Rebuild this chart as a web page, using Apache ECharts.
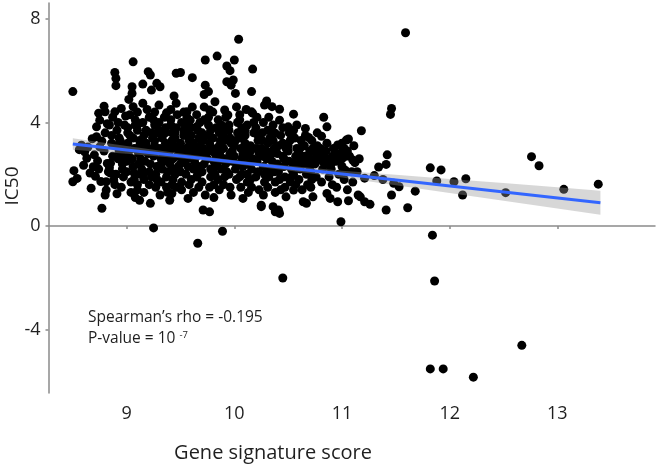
<!DOCTYPE html>
<html><head><meta charset="utf-8">
<script src="https://cdn.jsdelivr.net/npm/echarts@6/dist/echarts.min.js"></script>
<style>html,body{margin:0;padding:0;background:#fff}#c{width:660px;height:466px}</style>
</head><body><div id="c"></div>
<script>
// Axis ticks
const xTicks = [9, 10, 11, 12, 13];
const yTicks = [-4, 0, 4, 8];

// Scatter points: [gene signature score, IC50]
const pointsLeft = [
[8.50,5.19],[8.51,2.14],[8.50,1.71],[8.54,1.84],[8.56,2.95],[8.58,3.12],[8.61,2.87],[8.60,2.35],[8.63,2.62],
[8.66,2.05],[8.67,1.46],[8.68,3.37],[8.64,3.05],[8.69,2.29],[8.70,2.75],[8.71,1.92],
[8.72,3.83],[8.72,3.45],[8.74,4.36],[8.75,4.09],[8.75,3.06],[8.74,2.2],[8.77,0.69],[8.76,1.72],[8.73,2.52],[8.77,3.28],
[8.79,4.63],[8.80,4.41],[8.81,1.39],[8.81,1.71],[8.80,1.2],[8.79,2.9],[8.82,2.42],[8.80,3.6],[8.83,2.1],[8.82,3.95],
[8.85,2.43],[8.85,2.05],[8.86,3.2],[8.84,3.9],[8.87,2.7],[8.88,1.78],[8.86,3.5],[8.84,2.25],[8.87,4.2],
[8.89,5.93],[8.90,5.70],[8.90,5.42],[8.89,4.41],[8.91,1.25],[8.90,3.1],[8.92,2.6],[8.91,3.7],[8.90,2.0],[8.93,2.9],[8.92,4.0],[8.89,1.6],[8.93,3.4],
[8.95,4.54],[8.96,2.4],[8.94,3.3],[8.97,1.9],[8.95,2.8],[8.98,3.9],[8.96,2.2],[8.97,3.05],[8.95,1.5],[8.99,4.25],[8.98,2.6]
];
const pointsMidLeft = [
[9.02,4.89],[9.01,3.8],[9.03,3.5],[9.00,2.1],[9.02,2.9],[9.04,1.7],[9.01,3.2],[9.03,4.3],[9.00,2.5],[9.04,1.3],[9.02,2.7],[9.01,3.6],
[9.06,6.34],[9.05,5.38],[9.05,5.12],[9.06,4.61],[9.07,3.0],[9.06,2.3],[9.08,3.9],[9.07,1.8],[9.05,2.6],[9.08,4.1],[9.06,3.4],[9.08,1.1],[9.07,2.05],
[9.10,3.7],[9.11,2.8],[9.10,1.6],[9.12,3.3],[9.11,2.4],[9.10,4.4],[9.13,2.0],[9.12,3.1],[9.12,1.0],[9.13,2.6],[9.11,3.95],[9.10,1.4],
[9.15,5.48],[9.15,4.74],[9.16,3.5],[9.14,2.2],[9.17,2.9],[9.16,1.8],[9.15,4.0],[9.18,3.2],[9.17,2.5],[9.16,1.3],[9.18,3.7],[9.15,2.0],
[9.20,5.96],[9.22,5.83],[9.23,5.25],[9.21,4.2],[9.20,3.0],[9.22,2.4],[9.21,1.6],[9.23,3.6],[9.20,2.8],[9.22,0.88],[9.24,3.4],[9.21,2.1],[9.19,4.5],[9.23,1.9],
[9.25,-0.07],[9.26,3.9],[9.25,2.7],[9.27,1.5],[9.26,3.3],[9.28,2.3],[9.25,4.1],[9.27,2.9],[9.28,1.8],[9.26,3.1],[9.27,2.0],[9.28,3.6],[9.26,4.4],
[9.28,5.51],[9.31,5.38],[9.30,4.67],[9.31,1.2],[9.30,3.7],[9.32,2.6],[9.31,3.0],[9.33,2.2],[9.30,4.0],[9.32,1.7],[9.33,3.4],[9.31,2.9],[9.32,2.4],[9.33,3.5],
[9.37,4.37],[9.36,3.8],[9.35,2.8],[9.37,1.5],[9.36,3.2],[9.38,2.5],[9.35,4.2],[9.37,1.9],[9.36,3.6],[9.38,2.1],[9.35,3.0],[9.38,1.3],[9.36,2.7],
[9.40,1.0],[9.42,1.26],[9.41,3.9],[9.40,2.4],[9.42,3.3],[9.41,4.5],[9.43,1.8],[9.40,2.9],[9.42,3.6],[9.43,2.2],[9.41,4.1],[9.40,3.0],[9.43,2.6],[9.42,1.6],
[9.46,5.90],[9.44,5.02],[9.46,4.74],[9.45,3.4],[9.47,2.7],[9.45,2.0],[9.46,3.8],[9.48,2.3],[9.44,3.1],[9.47,4.3],[9.46,1.5],[9.48,2.9],[9.45,3.6]
];
const pointsMid = [
[9.50,5.93],[9.51,4.0],[9.50,3.2],[9.52,2.5],[9.51,1.7],[9.53,3.7],[9.50,2.1],[9.52,2.8],[9.53,4.4],[9.51,1.4],[9.52,3.0],[9.50,2.4],[9.53,3.5],
[9.56,4.41],[9.57,1.07],[9.55,3.9],[9.56,2.6],[9.58,3.3],[9.55,2.0],[9.57,2.9],[9.56,4.2],[9.58,1.6],[9.55,3.6],[9.57,2.3],[9.58,3.1],
[9.61,5.73],[9.59,4.09],[9.60,3.5],[9.62,2.2],[9.61,2.8],[9.60,1.8],[9.62,3.2],[9.61,4.6],[9.63,2.5],[9.60,3.8],[9.62,1.3],[9.63,3.0],
[9.65,3.83],[9.66,-0.66],[9.65,2.7],[9.67,3.4],[9.66,2.0],[9.65,4.3],[9.67,1.5],[9.68,2.9],[9.66,3.7],[9.67,2.3],[9.68,3.1],[9.65,1.9],[9.68,4.0],
[9.73,6.41],[9.73,5.44],[9.76,5.19],[9.72,5.08],[9.71,0.62],[9.70,3.6],[9.72,2.4],[9.71,3.0],[9.70,1.7],[9.72,4.1],[9.73,2.7],[9.71,3.3],[9.70,2.1],[9.72,4.6],[9.73,1.2],
[9.77,0.55],[9.77,4.48],[9.76,3.9],[9.75,2.6],[9.77,3.2],[9.78,1.9],[9.76,2.9],[9.75,3.5],[9.78,2.2],[9.76,4.2],[9.77,1.5],[9.78,3.7],
[9.84,6.56],[9.82,4.80],[9.80,3.4],[9.81,2.5],[9.82,2.0],[9.80,3.0],[9.83,3.8],[9.81,1.6],[9.82,2.8],[9.80,4.4],[9.83,2.3],[9.81,1.1],
[9.85,4.1],[9.86,3.1],[9.87,2.7],[9.85,1.8],[9.86,3.6],[9.88,2.2],[9.87,2.9],[9.86,1.4],[9.88,3.9],[9.85,2.5],[9.87,3.3],
[9.89,-0.2],
[9.93,6.18],[9.93,5.57],[9.91,4.48],[9.90,3.5],[9.92,2.4],[9.91,1.9],[9.90,3.0],[9.92,2.6],[9.91,3.8],[9.90,1.6],[9.92,4.2],[9.93,2.1],[9.91,3.3],
[9.96,6.0],[9.97,5.44],[9.94,4.29],[9.95,3.7],[9.96,2.8],[9.95,2.0],[9.97,3.2],[9.96,1.5],[9.98,2.5],[9.95,3.9],[9.97,1.2],[9.98,2.9],[9.96,3.4]
];
const pointsMidRight = [
[10.04,7.21],[10.00,6.41],[9.99,5.64],[10.01,5.12],[10.02,4.6],[10.00,3.1],[10.01,2.2],[10.03,3.6],[10.02,1.8],[10.00,2.7],[10.03,4.0],[10.08,1.07],[10.01,3.3],[10.02,2.4],
[10.05,4.3],[10.06,3.4],[10.07,2.6],[10.05,1.9],[10.06,3.0],[10.08,2.3],[10.07,3.8],[10.06,1.5],[10.08,2.8],[10.05,4.1],[10.07,2.0],
[10.10,3.7],[10.11,2.9],[10.12,1.7],[10.10,3.2],[10.13,2.4],[10.11,4.5],[10.12,2.0],[10.10,3.5],[10.13,1.3],[10.11,2.7],[10.12,3.9],
[10.17,6.06],[10.16,5.19],[10.16,4.41],[10.17,4.36],[10.15,3.1],[10.16,2.2],[10.18,3.6],[10.15,1.8],[10.17,2.6],[10.18,4.0],[10.16,1.5],[10.15,2.9],
[10.20,3.8],[10.21,2.5],[10.22,3.3],[10.20,1.9],[10.23,2.8],[10.21,4.2],[10.22,2.1],[10.20,3.0],[10.23,1.4],[10.22,3.5],
[10.25,0.81],[10.25,0.75],[10.26,3.6],[10.27,2.3],[10.25,3.0],[10.28,1.7],[10.26,2.7],[10.27,4.0],[10.28,2.0],[10.26,3.3],[10.27,1.2],
[10.30,4.83],[10.28,4.67],[10.31,3.2],[10.30,2.6],[10.32,1.9],[10.31,3.7],[10.33,2.2],[10.30,2.9],[10.32,4.2],[10.31,1.5],[10.33,3.4],
[10.35,4.61],[10.36,0.75],[10.36,3.9],[10.35,2.8],[10.37,2.1],[10.36,3.3],[10.38,1.7],[10.35,2.5],[10.37,3.0],[10.38,1.3],[10.36,3.6],
[10.42,4.51],[10.42,4.09],[10.38,3.58],[10.38,0.55],[10.42,0.49],[10.41,0.62],[10.40,2.4],[10.41,3.1],[10.42,1.8],[10.40,2.8],[10.43,3.5],[10.41,2.1],[10.43,1.4],
[10.45,3.8],[10.46,2.6],[10.45,3.2],[10.47,1.9],[10.46,2.3],[10.48,3.0],[10.47,1.5],[10.45,2.7]
];
const pointsRight = [
[10.50,3.83],[10.52,3.32],[10.48,1.13],[10.51,2.5],[10.50,2.9],[10.52,1.7],[10.51,3.6],[10.53,2.2],[10.50,3.1],[10.53,1.9],
[10.55,4.32],[10.55,1.39],[10.56,3.4],[10.57,2.7],[10.55,2.0],[10.58,3.0],[10.56,2.4],[10.57,1.6],[10.55,3.7],
[10.58,3.90],[10.60,2.8],[10.61,2.2],[10.62,3.3],[10.60,1.8],[10.62,2.5],[10.61,3.0],[10.63,1.4],
[10.66,3.77],[10.67,0.88],[10.64,0.94],[10.65,3.1],[10.66,2.4],[10.67,2.0],[10.65,2.7],[10.68,1.6],[10.66,3.5],
[10.69,3.42],[10.73,3.0],[10.70,2.6],[10.71,2.1],[10.72,1.8],[10.70,2.9],[10.71,1.5],[10.72,3.3],[10.70,2.3],
[10.73,1.13],[10.76,2.8],[10.75,2.4],[10.77,3.1],[10.76,1.9],[10.75,2.6],[10.77,3.6],
[10.83,4.20],[10.81,3.47],[10.80,2.7],[10.82,2.2],[10.80,3.0],[10.81,1.7],[10.82,2.5],
[10.86,3.83],[10.86,1.26],[10.85,2.9],[10.87,2.4],[10.86,3.2],[10.88,1.9],[10.85,2.6],
[10.89,1.07],[10.91,2.7],[10.90,2.2],[10.92,3.0],[10.91,1.6],[10.90,2.4],
[10.96,3.13],[10.96,0.94],[10.95,2.5],[10.97,2.0],[10.96,2.8],[10.95,1.5],
[10.99,0.17],[11.06,3.36],[11.01,2.9],[11.00,2.3],[11.02,1.8],[11.00,2.6],
[11.04,3.32],[11.06,0.98],[11.03,2.16],[11.04,2.7],[11.02,3.0],[11.05,1.4],
[11.00,3.2],[11.05,2.9],[11.07,2.7],[11.10,2.55],[11.12,2.45],
[11.09,2.1],[11.11,3.1],[11.10,1.7],
[11.14,2.1],[11.15,1.2],[11.16,2.6],
[11.21,0.94],[11.21,1.85],[11.17,1.13],[11.26,0.84]
];
const pointsOutlying = [
[11.18,3.68],[11.59,7.46],[11.46,4.54],[11.45,4.31],[12.76,2.68],[12.83,2.33],[11.82,2.25],[11.92,2.17],
[11.42,2.75],[11.34,2.28],[11.41,2.38],[11.88,1.74],[12.04,1.71],[12.15,1.83],[12.12,1.20],[11.68,1.35],
[11.61,0.71],[12.52,1.29],[13.06,1.42],[13.38,1.62],[11.46,1.20],[11.41,0.62],[11.48,1.65],[11.53,1.52],
[11.38,1.80],[11.30,1.95],
[10.45,-2.0],[11.84,-0.35],[11.86,-2.12],[12.67,-4.6],[11.82,-5.51],[11.94,-5.51],[12.22,-5.83]
];

// Regression fit (line + confidence band)
const fitX = [8.5, 13.4];
const fitY = [3.17, 0.90];
const bandX =     [8.5, 9.0, 9.5, 10.0, 10.5, 11.0, 11.5, 12.0, 12.5, 13.0, 13.4];
const bandLower = [2.95, 2.79, 2.62, 2.40, 2.15, 1.88, 1.58, 1.28, 0.98, 0.68, 0.44];
const bandUpper = [3.39, 3.09, 2.80, 2.54, 2.33, 2.14, 1.98, 1.82, 1.66, 1.50, 1.36];

const allPoints = [].concat(pointsLeft, pointsMidLeft, pointsMid, pointsMidRight, pointsRight, pointsOutlying);

const FONT = '"Open Sans", sans-serif';
const chart = echarts.init(document.getElementById('c'), null, {renderer: 'canvas'});
const axisLineStyle = {color: '#8a8a8a', width: 1.5};
chart.setOption({
  animation: false,
  backgroundColor: '#fff',
  grid: {left: 48.5, right: 5, top: 3, bottom: 73, containLabel: false},
  xAxis: {
    type: 'value', min: 8.274, max: 13.907,
    axisLine: {show: true, lineStyle: axisLineStyle},
    axisTick: {show: true, length: 3, lineStyle: {color: '#8a8a8a', width: 1.5}, customValues: xTicks},
    axisLabel: {customValues: xTicks, color: '#1f1f1f', fontSize: 18, fontFamily: FONT, margin: 12},
    splitLine: {show: false}
  },
  yAxis: {
    type: 'value', min: -6.44, max: 8.61,
    axisLine: {show: true, lineStyle: axisLineStyle},
    axisTick: {show: true, length: 3, lineStyle: {color: '#8a8a8a', width: 1.5}, customValues: yTicks},
    axisLabel: {customValues: yTicks, color: '#1f1f1f', fontSize: 18, fontFamily: FONT, margin: 8},
    splitLine: {show: false}
  },
  graphic: [
    {type: 'text', x: 13, y: 186, rotation: Math.PI / 2,
      style: {text: 'IC50', font: '19px ' + FONT, fill: '#1f1f1f', align: 'center', verticalAlign: 'middle'}},
    {type: 'text', x: 273, y: 453,
      style: {text: 'Gene signature score', font: '20px ' + FONT, fill: '#1f1f1f', align: 'center', verticalAlign: 'middle'}},
    {type: 'text', x: 88, y: 318,
      style: {text: 'Spearman\u2019s rho = -0.195', font: '15.5px ' + FONT, fill: '#1f1f1f', align: 'left', verticalAlign: 'middle'}},
    {type: 'text', x: 88, y: 339,
      style: {text: 'P-value = 10 {sup|-7}', font: '15.5px ' + FONT, fill: '#1f1f1f', align: 'left', verticalAlign: 'middle',
        rich: {sup: {fontSize: 9.5, fontFamily: FONT, fill: '#1f1f1f', verticalAlign: 'top', padding: [0, 0, 8, 0]}}}}
  ],
  series: [
    {
      type: 'scatter', data: allPoints, symbol: 'circle', symbolSize: 9,
      itemStyle: {color: '#000', opacity: 1}, z: 2, silent: true
    },
    {
      type: 'custom', coordinateSystem: 'cartesian2d', data: [[bandX[0], bandLower[0]]], z: 3, silent: true,
      renderItem: function (params, api) {
        const pts = [];
        for (let i = 0; i < bandX.length; i++) pts.push(api.coord([bandX[i], bandUpper[i]]));
        for (let i = bandX.length - 1; i >= 0; i--) pts.push(api.coord([bandX[i], bandLower[i]]));
        return {type: 'polygon', shape: {points: pts}, style: {fill: 'rgba(150,150,150,0.38)'}};
      }
    },
    {
      type: 'line', data: fitX.map((x, i) => [x, fitY[i]]), symbol: 'none', z: 4, silent: true,
      lineStyle: {color: '#3366ff', width: 3}
    }
  ]
});
</script>
</body></html>
